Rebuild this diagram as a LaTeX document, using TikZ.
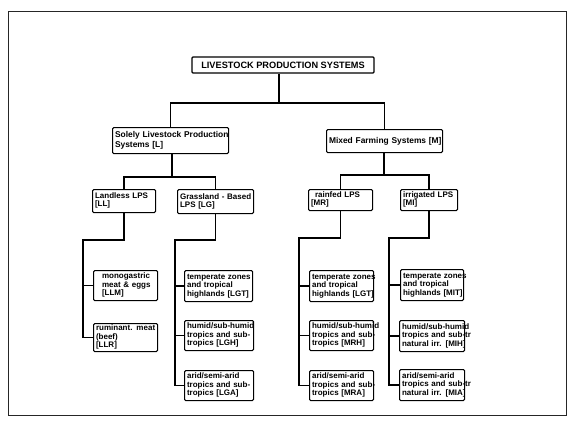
\documentclass[tikz,border=0pt]{standalone}
\usepackage{fontspec}
\setmainfont{Liberation Sans}
\newcommand\lns[1]{\begin{tabular}{@{}l@{}}#1\end{tabular}}
\tikzset{
  box/.style={draw, line width=1.1pt, rounded corners=1.2pt, anchor=north west,
    inner xsep=2.5pt, inner ysep=0pt, align=left},
  titlebox/.style={draw, line width=1.1pt, rounded corners=1pt, inner sep=0pt,
    align=center, font=\bfseries\fontsize{9.2}{10}\selectfont},
  lvA/.style={box, font=\bfseries\fontsize{8.4}{10}\selectfont},
  lvB/.style={box, font=\bfseries\fontsize{8}{8.4}\selectfont},
  leaf/.style={box, font=\bfseries\fontsize{8}{8.3}\selectfont},
  conn/.style={line width=1.6pt},
  frame/.style={line width=0.9pt, black!85},
}
\begin{document}
\begin{tikzpicture}[x=1pt,y=-1pt]
\useasboundingbox (0,0) rectangle (575,424);
\draw[frame] (8,11) rectangle (566,415);

% top
\node[titlebox, minimum width=182pt, minimum height=16pt] (top) at (283,65) {LIVESTOCK PRODUCTION SYSTEMS};

% level 2
\node[lvA, text width=111pt, minimum height=26pt] (L) at (112,127) {\lns{Solely Livestock Production\\Systems [L]}};
\node[lvA, text width=111pt, minimum height=23pt] (M) at (326,129) {\lns{Mixed Farming Systems [M]}};

% level 3
\node[lvB, text width=58pt, minimum height=23pt] (LL) at (92,189) {\lns{Landless LPS\\{}[LL]}};
\node[lvB, text width=71pt, minimum height=24pt] (LG) at (177,189) {\lns{Grassland - Based\\LPS [LG]}};
\node[lvB, text width=59pt, minimum height=21pt] (MR) at (308,189) {\lns{\hspace{4pt}rainfed LPS\\{}[MR]}};
\node[lvB, text width=52pt, minimum height=21pt] (MI) at (400,189) {\lns{irrigated LPS\\{}[MI]}};

% leaves LL
\node[leaf, text width=59pt, minimum height=30pt] (LLM) at (93,270) {\lns{\hspace{6pt}monogastric\\\hspace{6pt}meat \& eggs\\\hspace{6pt}[LLM]}};
\node[leaf, text width=59pt, minimum height=28pt] (LLR) at (93,323) {\lns{ruminant. meat\\(beef)\\{}[LLR]}};
% leaves LG
\node[leaf, text width=63pt, minimum height=31pt] (LGT) at (184,270) {\lns{temperate zones\\and tropical\\highlands [LGT]}};
\node[leaf, text width=64pt, minimum height=30pt] (LGH) at (184,320) {\lns{humid/sub-humid\\tropics and sub-\\tropics [LGH]}};
\node[leaf, text width=64pt, minimum height=30pt] (LGA) at (184,370) {\lns{arid/semi-arid\\tropics and sub-\\tropics [LGA]}};
% leaves MR
\node[leaf, text width=59pt, minimum height=31pt] (MRT) at (309,270) {\lns{temperate zones\\and tropical\\highlands [LGT]}};
\node[leaf, text width=59pt, minimum height=30pt] (MRH) at (309,320) {\lns{humid/sub-humid\\tropics and sub-\\tropics [MRH]}};
\node[leaf, text width=59pt, minimum height=30pt] (MRA) at (309,370) {\lns{arid/semi-arid\\tropics and sub-\\tropics [MRA]}};
% leaves MI
\node[leaf, text width=58pt, minimum height=31pt] (MIT) at (400,269) {\lns{temperate zones\\and tropical\\highlands [MIT]}};
\node[leaf, text width=60pt, minimum height=31pt] (MIH) at (399,320) {\lns{humid/sub-humid\\tropics and sub-tr\\natural irr. [MIH]}};
\node[leaf, text width=60pt, minimum height=31pt] (MIA) at (399,369) {\lns{arid/semi-arid\\tropics and sub-tr\\natural irr. [MIA]}};

% junction coordinates
\coordinate (jT) at (279,103);
\coordinate (jL) at (172,177);
\coordinate (jM) at (384,175);
\coordinate (bLL) at (83,240);
\coordinate (bLG) at (175,240);
\coordinate (bMR) at (299,238);
\coordinate (bMI) at (389,238);

% connectors
\draw[conn] (top.south -| jT) -- (jT);
\draw[conn] (L.north) |- (jT) -| (M.north);
\draw[conn] (L.south -| jL) -- (jL);
\draw[conn] (LL.north) |- (jL) -| (LG.north);
\draw[conn] (M.south -| jM) -- (jM);
\draw[conn] (MR.north) |- (jM) -| (MI.north);

\draw[conn] (LL.south) |- (bLL) |- (LLR.west);
\draw[conn] (LLM.west -| bLL) -- (LLM.west);

\draw[conn] (LG.south) |- (bLG) |- (LGA.west);
\draw[conn] (LGT.west -| bLG) -- (LGT.west);
\draw[conn] (LGH.west -| bLG) -- (LGH.west);

\draw[conn] (MR.south) |- (bMR) |- (MRA.west);
\draw[conn] (MRT.west -| bMR) -- (MRT.west);
\draw[conn] (MRH.west -| bMR) -- (MRH.west);

\draw[conn] (MI.south) |- (bMI) |- (MIA.west);
\draw[conn] (MIT.west -| bMI) -- (MIT.west);
\draw[conn] (MIH.west -| bMI) -- (MIH.west);
\end{tikzpicture}
\end{document}
